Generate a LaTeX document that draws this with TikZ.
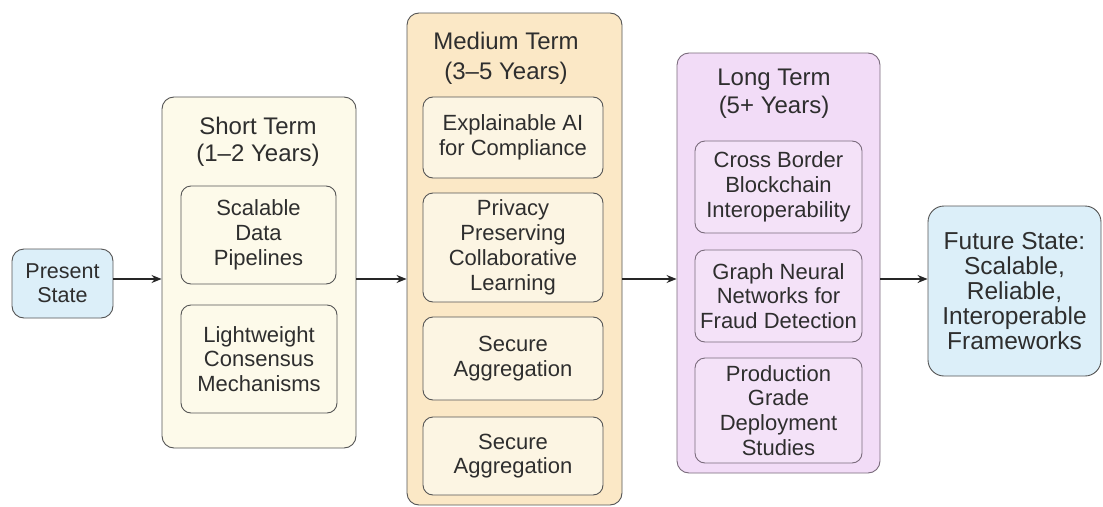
\documentclass[tikz,border=0pt]{standalone}
\usepackage{fontspec}
\setmainfont{Liberation Sans}
\usetikzlibrary{arrows.meta}
\definecolor{txt}{HTML}{2E2E2E}
\definecolor{edge}{HTML}{555555}
\definecolor{blueF}{HTML}{DCEFF9}
\definecolor{shortF}{HTML}{FDFAEA}
\definecolor{medF}{HTML}{FBE8C6}
\definecolor{medSubF}{HTML}{FCF5E3}
\definecolor{longF}{HTML}{F2DCF7}
\definecolor{longSubF}{HTML}{F4E2F8}
\definecolor{longEdge}{HTML}{7A6B7C}
\tikzset{
  box/.style={draw=edge, line width=0.9pt, rounded corners=12pt, inner sep=0pt, align=center, text=txt,
    font=\fontsize{22}{24.8}\selectfont},
  sub/.style={box, rounded corners=10pt},
  hdr/.style={inner sep=0pt, align=center, text=txt, font=\fontsize{24}{28}\selectfont},
  arr/.style={-{Stealth[length=10pt,width=8pt]}, line width=1.1pt, draw=black!85},
}
\begin{document}
\begin{tikzpicture}[x=1pt,y=-1pt]
\useasboundingbox (0,0) rectangle (1103,506);
\fill[white] (0,0) rectangle (1103,506);
\coordinate (axis) at (0,279);
% present
\node[box, fill=blueF, minimum width=101pt, minimum height=69pt, font=\fontsize{21.5}{24}\selectfont] (present) at (62.5,283.5) {Present\\State};
% short term
\node[box, fill=shortF, minimum width=194pt, minimum height=351pt] (short) at (259,272.5) {};
\node[hdr, font=\fontsize{24}{27}\selectfont] (shorth) at (258,141.5) {Short Term\\(1--2 Years)};
\node[sub, fill=shortF, minimum width=155pt, minimum height=98pt] (s1) at (258.5,235) {Scalable\\Data\\Pipelines};
\node[sub, fill=shortF, minimum width=156pt, minimum height=108pt] (s2) at (259,359) {Lightweight\\Consensus\\Mechanisms};
% medium term
\node[box, fill=medF, minimum width=215pt, minimum height=492pt] (medium) at (514.5,259) {};
\node[hdr, font=\fontsize{24}{30}\selectfont] (mediumh) at (506,58) {Medium Term\\(3--5 Years)};
\node[sub, fill=medSubF, minimum width=180pt, minimum height=81pt] (m1) at (513,137.5) {Explainable AI\\for Compliance};
\node[sub, fill=medSubF, minimum width=180pt, minimum height=109pt] (m2) at (513,247.5) {Privacy\\Preserving\\Collaborative\\Learning};
\node[sub, fill=medSubF, minimum width=180pt, minimum height=83pt] (m3) at (513,358.5) {Secure\\Aggregation};
\node[sub, fill=medSubF, minimum width=180pt, minimum height=78pt] (m4) at (513,456) {Secure\\Aggregation};
% long term
\node[box, draw=longEdge, fill=longF, minimum width=203pt, minimum height=420pt] (long) at (778.5,263) {};
\node[hdr] (longh) at (774,94) {Long Term\\(5+ Years)};
\node[sub, draw=longEdge, fill=longSubF, minimum width=167pt, minimum height=92pt] (l1) at (778.5,187) {Cross Border\\Blockchain\\Interoperability};
\node[sub, draw=longEdge, fill=longSubF, minimum width=167pt, minimum height=92pt] (l2) at (778.5,296) {Graph Neural\\Networks for\\Fraud Detection};
\node[sub, draw=longEdge, fill=longSubF, minimum width=167pt, minimum height=105pt] (l3) at (778.5,410.5) {Production\\Grade\\Deployment\\Studies};
% future
\node[box, fill=blueF, minimum width=173pt, minimum height=170pt, rounded corners=16pt, font=\fontsize{24.5}{25}\selectfont] (future) at (1014.5,291) {Future State:\\Scalable,\\Reliable,\\Interoperable\\Frameworks};
% arrows
\draw[arr] (present.east |- axis) -- (short.west |- axis);
\draw[arr] (short.east |- axis) -- (medium.west |- axis);
\draw[arr] (medium.east |- axis) -- (long.west |- axis);
\draw[arr] (long.east |- axis) -- (future.west |- axis);
\end{tikzpicture}
\end{document}
